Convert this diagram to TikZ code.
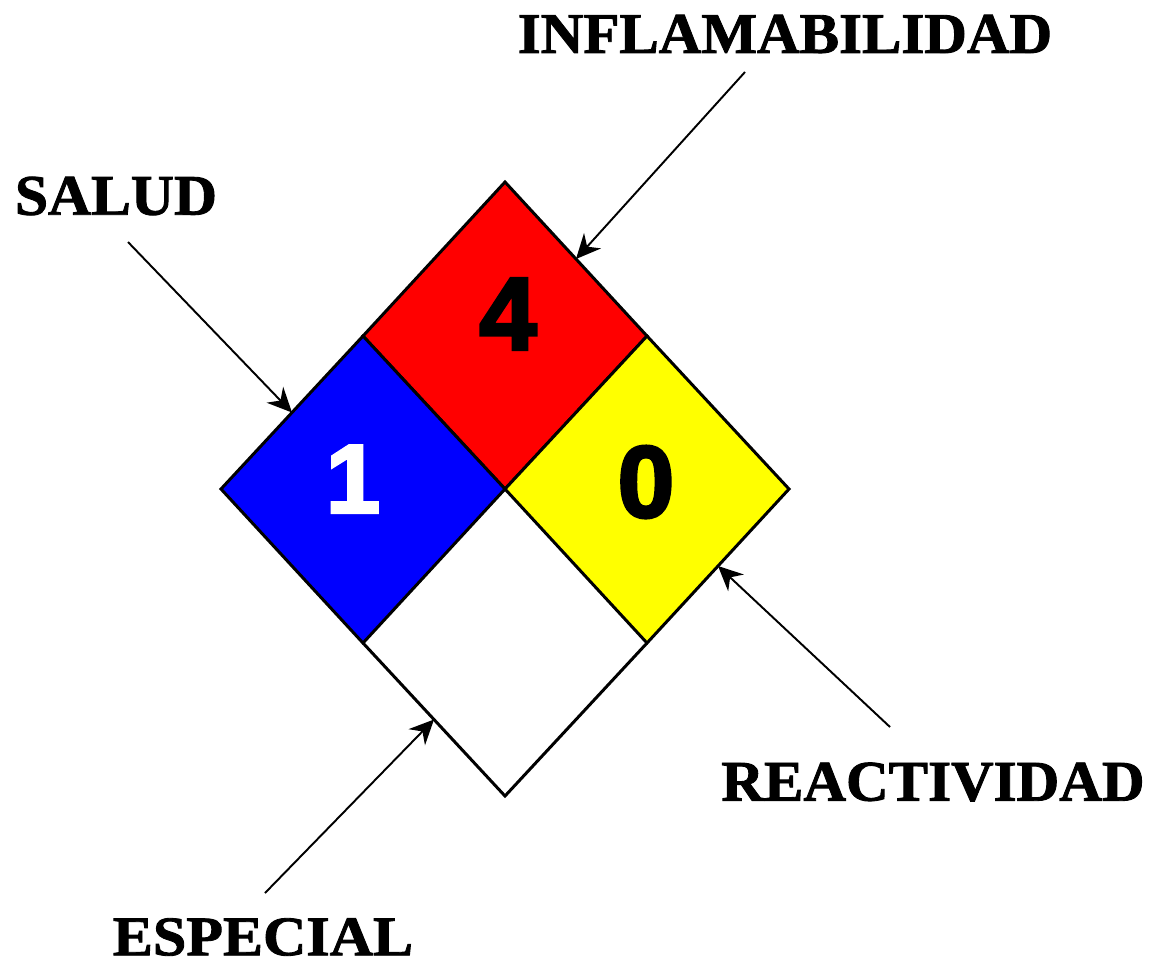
\documentclass[tikz,border=0pt]{standalone}
\usepackage{fontspec}
\usetikzlibrary{arrows.meta,calc}
\newfontfamily\labfont{Liberation Serif}[BoldFeatures={FakeBold=1.5}]
\newfontfamily\numfont{Liberation Sans}[BoldFeatures={FakeBold=3}]
\tikzset{
  square/.style={draw=black,line width=0.85pt,line join=miter},
  pointer/.style={draw=black,line width=0.55pt,-{Stealth[length=7pt,width=6.5pt]}},
  lab/.style={inner sep=0pt,anchor=center},
}
\begin{document}
\begin{tikzpicture}[x=0.01cm,y=-0.01cm]
\useasboundingbox (0,0) rectangle (1161,963);
% diamond geometry
\coordinate (T) at (505,182);
\coordinate (L) at (221,489);
\coordinate (R) at (789,489);
\coordinate (B) at (505,796);
\coordinate (C) at (505,489);
\coordinate (TL) at (363,336);
\coordinate (TR) at (647,336);
\coordinate (BL) at (363,643);
\coordinate (BR) at (647,643);
% squares
\path[square,fill={rgb,255:red,255;green,0;blue,0}] (T) -- (TR) -- (C) -- (TL) -- cycle;
\path[square,fill={rgb,255:red,0;green,0;blue,255}] (TL) -- (C) -- (BL) -- (L) -- cycle;
\path[square,fill={rgb,255:red,255;green,255;blue,0}] (TR) -- (R) -- (BR) -- (C) -- cycle;
\path[square] (BL) -- (B) -- (BR);
% numbers
\node[lab] (n4) at (508,314) {\resizebox{!}{0.71cm}{\numfont\bfseries 4}};
\node[lab] (n1) at (353,479) {\resizebox{!}{0.67cm}{\color{white}\numfont\bfseries 1}};
\node[lab] (n0) at (646,482) {\resizebox{!}{0.71cm}{\numfont\bfseries 0}};
% labels
\node[lab] (inf) at (785,34) {\resizebox{5.34cm}{0.38cm}{\labfont\bfseries INFLAMABILIDAD}};
\node[lab] (sal) at (116,196) {\resizebox{2.02cm}{0.38cm}{\labfont\bfseries SALUD}};
\node[lab] (rea) at (933,782) {\resizebox{4.23cm}{0.38cm}{\labfont\bfseries REACTIVIDAD}};
\node[lab] (esp) at (263,937) {\resizebox{3.00cm}{0.37cm}{\labfont\bfseries ESPECIAL}};
% pointer ends
\coordinate (sInf) at (745,72);
\coordinate (sSal) at (128,242);
\coordinate (sRea) at (890,727);
\coordinate (sEsp) at (265,893);
\coordinate (tInf) at ($(T)!0.5!(TR)$);
\coordinate (tSal) at ($(TL)!0.5!(L)$);
\coordinate (tRea) at ($(R)!0.5!(BR)$);
\coordinate (tEsp) at ($(BL)!0.5!(B)$);
\draw[pointer] (sInf) -- (tInf);
\draw[pointer] (sSal) -- (tSal);
\draw[pointer] (sRea) -- (tRea);
\draw[pointer] (sEsp) -- (tEsp);
\end{tikzpicture}
\end{document}
